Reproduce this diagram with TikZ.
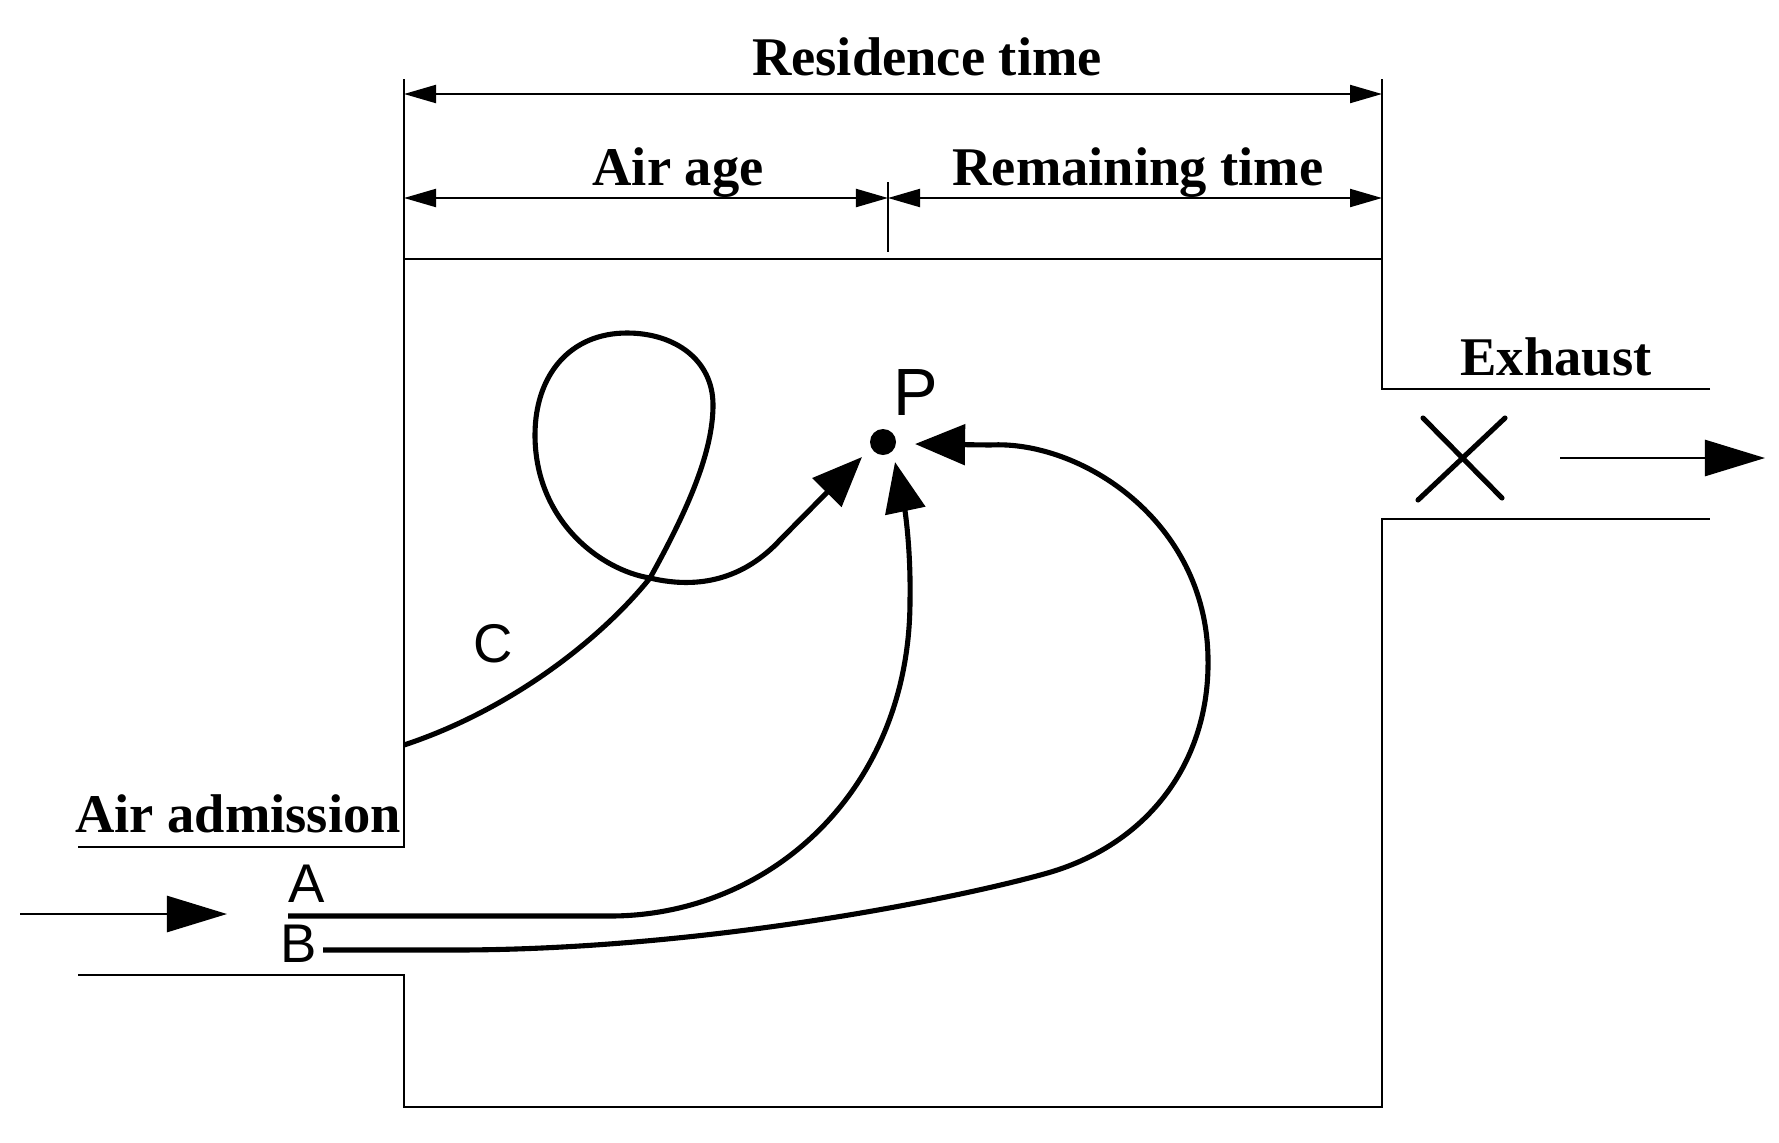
\documentclass[tikz,border=0pt]{standalone}
\usepackage{fontspec}
\newfontfamily\labelsans{Liberation Sans}
\newfontfamily\labelserif{Liberation Serif}
\usetikzlibrary{arrows.meta}
\tikzset{
  wall/.style={line width=0.75pt},
  dimline/.style={line width=0.6pt},
  dimarrow/.style={dimline,{Triangle[length=0.32cm,width=0.18cm]}-{Triangle[length=0.32cm,width=0.18cm]}},
  flow/.style={line width=1.45pt,-{Triangle[length=0.5cm,width=0.4cm]}},
  thinflow/.style={line width=0.75pt,-{Triangle[length=0.6cm,width=0.36cm]}},
  title/.style={font=\labelserif\bfseries\fontsize{15.5}{17}\selectfont,anchor=base,inner sep=0pt},
  letter/.style={font=\labelsans\fontsize{15.5}{17}\selectfont,anchor=base,inner sep=0pt},
}
\begin{document}
\begin{tikzpicture}[x=0.01cm,y=-0.01cm]
\useasboundingbox (0,0) rectangle (1779,1142);
% walls
\draw[wall] (1710,389) -- (1382,389) -- (1382,259) -- (404,259) -- (404,847) -- (78,847);
\draw[wall] (78,975) -- (404,975) -- (404,1107) -- (1382,1107) -- (1382,519) -- (1710,519);
% dimension lines
\coordinate (rl) at (404,94);
\coordinate (rr) at (1382,94);
\coordinate (al) at (404,198);
\coordinate (am) at (888,198);
\coordinate (ar) at (1382,198);
\draw[dimline] (404,79) -- (404,259);
\draw[dimline] (1382,79) -- (1382,259);
\draw[dimline] (888,182) -- (888,252);
\draw[dimarrow] (rl) -- (rr);
\draw[dimarrow] (al) -- (am);
\draw[dimarrow] (am) -- (ar);
\node[title] (res) at (927,75) {Residence time};
\node[title] (age) at (678,185) {Air age};
\node[title] (rem) at (1138,185) {Remaining time};
\node[title] (adm) at (238,832) {Air admission};
\node[title] (exh) at (1556,375) {Exhaust};
% inlet and outlet arrows
\coordinate (in1) at (20,914);
\coordinate (in2) at (227,914);
\draw[thinflow] (in1) -- (in2);
\coordinate (out1) at (1560,458);
\coordinate (out2) at (1765,458);
\draw[thinflow] (out1) -- (out2);
% exhaust X
\draw[line width=1.45pt,line cap=round] (1423,418) -- (1502,498);
\draw[line width=1.45pt,line cap=round] (1505,418) -- (1418,500);
% point P
\fill (883,442) circle (0.13cm);
\node[letter,font=\labelsans\fontsize{19}{21}\selectfont] (P) at (916,415) {P};
\node[letter] (A) at (307,902) {A};
\node[letter] (B) at (299,962) {B};
\node[letter] (C) at (493,662) {C};
% streamline A
\coordinate (Astart) at (288,916);
\coordinate (Atip) at (895,462);
\draw[flow] (Astart) -- (610,916) .. controls (770,916) and (910,790) .. (910,600)
  .. controls (911,540) and (903,500) .. (Atip);
% streamline B
\coordinate (Bstart) at (323,950);
\coordinate (Btip) at (915,444);
\draw[flow] (Bstart) -- (454,950) .. controls (700,950) and (950,900) .. (1044,874)
  .. controls (1150,845) and (1210,760) .. (1208,658)
  .. controls (1206,520) and (1080,440) .. (990,445) -- (Btip);
% streamline C
\coordinate (Cstart) at (404,745);
\coordinate (Ctip) at (862,457);
\draw[flow] (Cstart) .. controls (510,710) and (600,640) .. (650,578)
  .. controls (690,506) and (713,450) .. (713,405)
  .. controls (713,360) and (675,333) .. (627,333)
  .. controls (570,333) and (535,375) .. (535,435)
  .. controls (535,520) and (600,570) .. (650,578)
  .. controls (700,590) and (745,578) .. (780,540) -- (Ctip);
\end{tikzpicture}
\end{document}
